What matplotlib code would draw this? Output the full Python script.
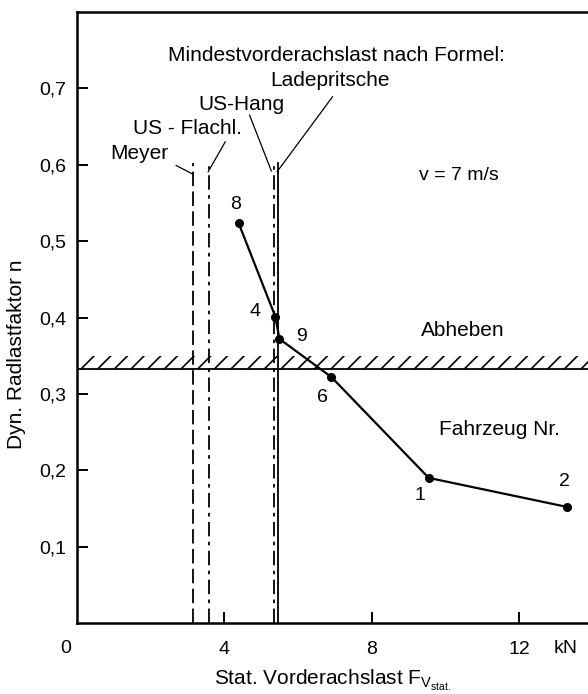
import matplotlib
matplotlib.use("Agg")
import matplotlib.pyplot as plt

plt.rcParams["font.family"] = ["Liberation Sans", "DejaVu Sans"]
plt.rcParams["mathtext.fontset"] = "custom"
plt.rcParams["mathtext.rm"] = "Liberation Sans"
plt.rcParams["hatch.linewidth"] = 1.2

# Fahrzeuge: statische Vorderachslast (kN) und dyn. Radlastfaktor n
vehicle_ids = ["8", "4", "9", "6", "1", "2"]
load_kN = [4.38, 5.38, 5.49, 6.90, 9.54, 13.29]
n_factor = [0.524, 0.401, 0.372, 0.322, 0.190, 0.152]

# Grenze "Abheben"
liftoff_n = 0.332

# Mindestvorderachslast nach Formel
limit_names = ["Meyer", "US - Flachl.", "US-Hang", "Ladepritsche"]
limit_x = [3.15, 3.58, 5.33, 5.45]
limit_top = 0.602

x_ticks = [4, 8, 12]
y_ticks = [0.1, 0.2, 0.3, 0.4, 0.5, 0.6, 0.7]
y_ticklabels = ["0,1", "0,2", "0,3", "0,4", "0,5", "0,6", "0,7"]

xmax = 13.86

fig = plt.figure(figsize=(5.88, 6.94), dpi=100)
ax = fig.add_axes([0.131, 0.1023, 0.869, 0.8804])

# Messkurve
ax.plot(load_kN, n_factor, color="black", lw=1.6, marker="o", ms=5.5, zorder=5)
label_off = [(-3, 18), (-20, 5), (22, 2), (-9, -20), (-9, -18), (-3, 25)]
for vid, x, y, off in zip(vehicle_ids, load_kN, n_factor, label_off):
    ax.annotate(vid, (x, y), xytext=off, textcoords="offset pixels",
                ha="center", va="center", fontsize=14)

# Abheben-Grenze mit Schraffur
ax.axhline(liftoff_n, color="black", lw=1.3)
ax.fill_between([0, xmax], liftoff_n, liftoff_n + 0.018, facecolor="none",
                edgecolor="black", hatch="//", linewidth=0)

# senkrechte Grenzlinien
styles = [(0, (8, 3)), (0, (8, 3, 2, 3)), (0, (8, 3, 2, 3)), "-"]
for x, ls in zip(limit_x, styles):
    ax.plot([x, x], [0, limit_top], color="black", lw=1.3, linestyle=ls)

# Beschriftung der Grenzlinien
name_pos = [(1.68, 0.615), (2.99, 0.648), (4.46, 0.679), (6.85, 0.710)]
leader = [((2.69, 0.599), (3.13, 0.588)),
          ((4.02, 0.630), (3.56, 0.591)),
          ((4.68, 0.665), (5.27, 0.592)),
          ((6.93, 0.689), (5.43, 0.591))]
for name, pos, (p0, p1) in zip(limit_names, name_pos, leader):
    ax.text(pos[0], pos[1], name, ha="center", va="center", fontsize=15)
    ax.plot([p0[0], p1[0]], [p0[1], p1[1]], color="black", lw=0.9)

ax.text(7.04, 0.743, "Mindestvorderachslast nach Formel:", ha="center",
        va="center", fontsize=15)
ax.text(10.35, 0.586, "v = 7 m/s", ha="center", va="center", fontsize=14)
ax.text(10.46, 0.383, "Abheben", ha="center", va="center", fontsize=15)
ax.text(11.47, 0.254, "Fahrzeug Nr.", ha="center", va="center", fontsize=15)

ax.set_xlim(0, xmax)
ax.set_ylim(0, 0.8)
ax.set_xticks(x_ticks)
ax.set_xticklabels([str(t) for t in x_ticks])
ax.set_yticks(y_ticks)
ax.set_yticklabels(y_ticklabels)
ax.tick_params(direction="in", length=8, width=1.4, labelsize=14)
ax.tick_params(axis="x", pad=13)
ax.tick_params(axis="y", pad=8)
ax.text(-0.3, -0.034, "0", ha="center", va="center", fontsize=14, clip_on=False)
ax.text(13.25, -0.034, "kN", ha="center", va="center", fontsize=14, clip_on=False)

for side in ["left", "bottom", "top"]:
    ax.spines[side].set_linewidth(1.8)
ax.spines["right"].set_visible(False)

ax.set_xlabel(r"Stat. Vorderachslast F$_{\mathrm{V}_{\mathrm{stat.}}}$", fontsize=15, labelpad=7)
ax.set_ylabel("Dyn. Radlastfaktor n", fontsize=15)
ax.yaxis.set_label_coords(-0.10, 0.44)

fig.savefig("out.png", dpi=100)
plt.close(fig)
